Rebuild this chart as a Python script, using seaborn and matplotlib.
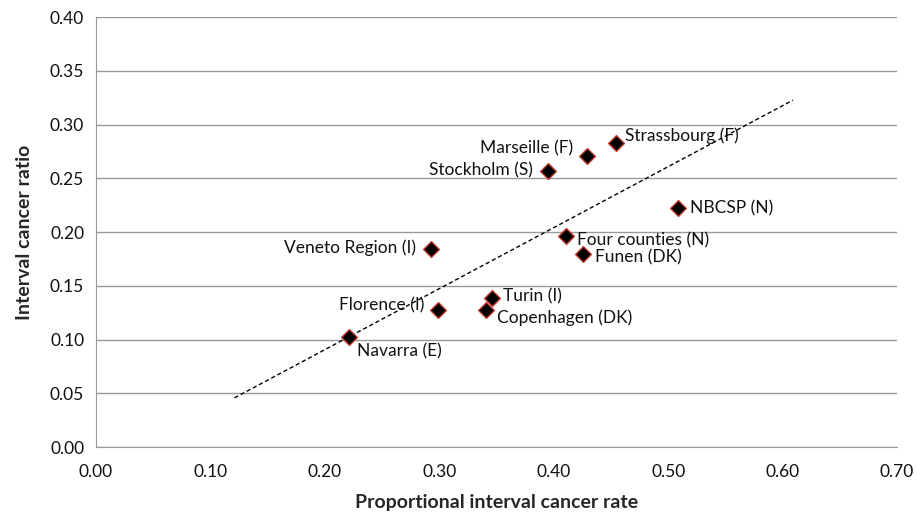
import numpy as np
import pandas as pd
import matplotlib
matplotlib.use("Agg")
import matplotlib.pyplot as plt
import seaborn as sns

programmes = ["Strassbourg (F)", "Marseille (F)", "Stockholm (S)", "NBCSP (N)",
              "Four counties (N)", "Funen (DK)", "Veneto Region (I)", "Florence (I)",
              "Turin (I)", "Copenhagen (DK)", "Navarra (E)"]
rate = [0.454, 0.429, 0.395, 0.509, 0.411, 0.426, 0.293, 0.299, 0.346, 0.341, 0.221]
ratio = [0.283, 0.271, 0.257, 0.222, 0.196, 0.180, 0.184, 0.127, 0.139, 0.127, 0.102]

# label offsets in points (dx, dy) and alignment
label_pos = {
    "Strassbourg (F)": (7, 5, "left"),
    "Marseille (F)": (-10, 5, "right"),
    "Stockholm (S)": (-11, 0, "right"),
    "NBCSP (N)": (8, 0, "left"),
    "Four counties (N)": (8, -3, "left"),
    "Funen (DK)": (8, -3, "left"),
    "Veneto Region (I)": (-11, 1, "right"),
    "Florence (I)": (-10, 4, "right"),
    "Turin (I)": (8, 1, "left"),
    "Copenhagen (DK)": (8, -5, "left"),
    "Navarra (E)": (6, -10, "left"),
}

df = pd.DataFrame({"programme": programmes, "rate": rate, "ratio": ratio})

sns.set_style("white")
plt.rcParams["font.family"] = ["Lato", "DejaVu Sans"]

fig = plt.figure(figsize=(9.17, 5.16), dpi=100)
ax = fig.add_axes([0.1047, 0.1337, 0.8735, 0.8333])

# linear trendline, extended 0.1 each side
slope, intercept = np.polyfit(df["rate"], df["ratio"], 1)
tx = np.array([df["rate"].min() - 0.1, df["rate"].max() + 0.1])
ax.plot(tx, slope * tx + intercept, color="black", linestyle=(0, (3, 2)), linewidth=1, zorder=2)

sns.scatterplot(data=df, x="rate", y="ratio", marker="D", s=65, color="black",
                edgecolor="#c0392b", linewidth=1, ax=ax, zorder=3)

for _, r in df.iterrows():
    dx, dy, ha = label_pos[r["programme"]]
    ax.annotate(r["programme"], (r["rate"], r["ratio"]), xytext=(dx, dy),
                textcoords="offset points", ha=ha, va="center", fontsize=12.5, color="#111111")

ax.set_xlim(0, 0.70)
ax.set_ylim(0, 0.40)
ax.set_xticks(np.arange(0, 0.71, 0.1))
ax.set_yticks(np.arange(0, 0.401, 0.05))
ax.set_xticklabels([f"{v:.2f}" for v in np.arange(0, 0.71, 0.1)])
ax.set_yticklabels([f"{v:.2f}" for v in np.arange(0, 0.401, 0.05)])
ax.yaxis.grid(True, color="#999999", linewidth=1)
ax.set_axisbelow(True)
for s in ["top", "right"]:
    ax.spines[s].set_visible(False)
for s in ["left", "bottom"]:
    ax.spines[s].set_color("#999999")
ax.tick_params(axis="both", direction="out", length=5, color="#999999", labelsize=12.5, labelcolor="#111111")
ax.tick_params(axis="x", pad=7)

ax.set_xlabel("Proportional interval cancer rate", fontsize=14, fontweight="bold", labelpad=10)
ax.set_ylabel("Interval cancer ratio", fontsize=14, fontweight="bold", labelpad=12)

fig.savefig("out.png", dpi=100)
